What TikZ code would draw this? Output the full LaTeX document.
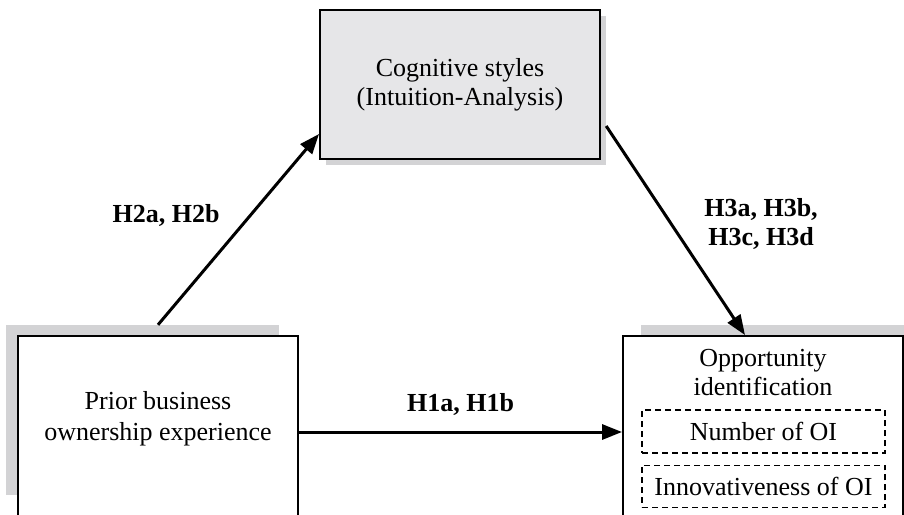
\documentclass[tikz,border=0pt]{standalone}
\usepackage{fontspec}
\setmainfont{Liberation Serif}
\usetikzlibrary{arrows.meta, positioning}
\definecolor{shadowgray}{HTML}{D3D3D5}
\definecolor{cogfill}{HTML}{E6E6E8}

\begin{document}
\begin{tikzpicture}[
        x=1pt, y=-1pt,
        >={Triangle[length=20pt, width=15pt]},
        node distance=11pt,
        shadowbox/.style={rectangle, fill=shadowgray, draw=none, inner sep=0pt},
        varbox/.style={rectangle, draw=black, line width=1.9pt, fill=white, inner sep=0pt, minimum width=280pt, align=center, font=\fontsize{26}{29}\selectfont},
        subvar/.style={rectangle, draw=black, line width=1.4pt, dash pattern=on 6pt off 4pt, inner sep=0pt, minimum width=243pt, font=\fontsize{26}{29}\selectfont},
        varlabel/.style={align=center, font=\fontsize{26}{29}\selectfont},
        hyp/.style={align=center, font=\fontsize{26}{29}\selectfont\bfseries},
        arrow/.style={->, line width=3pt, draw=black}
    ]
    \useasboundingbox (0,0) rectangle (904,514);
    \clip (0,0) rectangle (904,514);

    % shadows
    \node[shadowbox, minimum width=280pt, minimum height=149pt] (cogsh) at (466,90.5) {};
    \node[shadowbox, minimum width=273pt, minimum height=170pt] (priorsh) at (142.5,410) {};
    \node[shadowbox, minimum width=280pt, minimum height=192pt] (oish) at (781,421) {};

    % variables
    \node[varbox, fill=cogfill, minimum height=149pt] (cog) at (460,84.5) {Cognitive styles\\(Intuition-Analysis)};
    \node[varbox, minimum height=192pt] (prior) at (158,432) {};
    \node[varlabel, font=\fontsize{26}{31}\selectfont] (priortxt) at (158,419) {Prior business\\ownership experience};
    \node[varbox, minimum height=192pt] (oi) at (763,432) {};
    \node[varlabel] (oitxt) at (763,373) {Opportunity\\identification};
    \node[subvar, minimum height=43pt] (num) at (763.5,431.5) {Number of OI};
    \node[subvar, minimum height=42pt, below=of num] (inno) {Innovativeness of OI};

    % hypotheses
    \draw[arrow] ([xshift=15.5pt]priorsh.north) -- ([yshift=26pt]cog.south west);
    \draw[arrow] ([yshift=-35.5pt]cogsh.east) -- ([xshift=-18pt]oi.north);
    \draw[arrow] (prior) -- node[hyp, above=12pt] (h1) {H1a, H1b} (oi);
    \node[hyp] (h2) at (166,215) {H2a, H2b};
    \node[hyp] (h3) at (761,224) {H3a, H3b,\\H3c, H3d};

\end{tikzpicture}
\end{document}
